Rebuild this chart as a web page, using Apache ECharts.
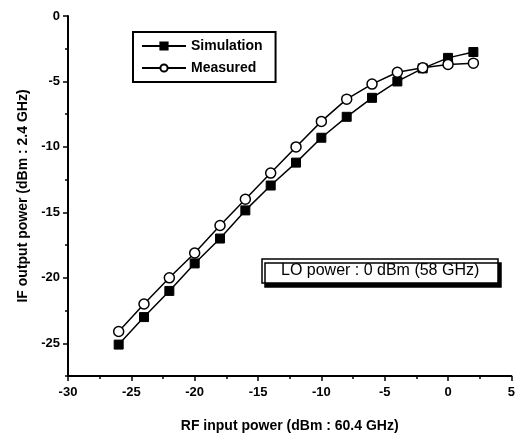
<!DOCTYPE html>
<html>
<head>
<meta charset="utf-8">
<script src="https://cdn.jsdelivr.net/npm/echarts@6/dist/echarts.min.js"></script>
<style>
  html, body { margin: 0; padding: 0; background: #fff; }
  #chart { width: 518px; height: 438px; }
</style>
</head>
<body>
<div id="chart"></div>
<script>
// RF input power (dBm)
var rfInput = [-26, -24, -22, -20, -18, -16, -14, -12, -10, -8, -6, -4, -2, 0, 2];
var simulation = [-25.1, -23.0, -21.0, -18.9, -17.0, -14.85, -12.95, -11.2, -9.3, -7.7, -6.25, -5.0, -4.0, -3.2, -2.75];
var measured = [-24.1, -22.0, -20.0, -18.1, -16.0, -14.0, -12.0, -10.0, -8.05, -6.35, -5.2, -4.3, -3.95, -3.7, -3.6];
var yMajor = [-25, -20, -15, -10, -5, 0];
var yMinor = [-27.5, -22.5, -17.5, -12.5, -7.5, -2.5];

var font = 'Arial, "Liberation Sans", sans-serif';

function pairs(xs, ys) {
  return xs.map(function (x, i) { return [x, ys[i]]; });
}

var chart = echarts.init(document.getElementById('chart'));
chart.setOption({
  animation: false,
  backgroundColor: '#fff',
  grid: { left: 68, right: 6, top: 16, bottom: 61 },
  title: {
    text: 'LO power : 0 dBm (58 GHz)',
    left: 262, top: 259,
    padding: [4, 19, 4, 19],
    backgroundColor: '#fff',
    borderColor: '#000', borderWidth: 1.5,
    shadowColor: '#000', shadowBlur: 0, shadowOffsetX: 3, shadowOffsetY: 4,
    textStyle: { fontFamily: font, fontSize: 16, fontWeight: 'normal', color: '#000' }
  },
  legend: {
    orient: 'vertical',
    left: 133, top: 32,
    padding: [7, 13, 7, 8],
    itemGap: 8,
    itemWidth: 44, itemHeight: 9,
    borderColor: '#000', borderWidth: 2,
    textStyle: { fontFamily: font, fontSize: 14, fontWeight: 'bold', color: '#000' },
    data: ['Simulation', 'Measured']
  },
  xAxis: {
    type: 'value',
    min: -30, max: 5, interval: 5,
    name: 'RF input power (dBm : 60.4 GHz)',
    nameLocation: 'middle', nameGap: 43,
    nameTextStyle: { fontFamily: font, fontSize: 14, fontWeight: 'bold', color: '#000' },
    axisLine: { show: true, onZero: false, lineStyle: { color: '#000', width: 2 } },
    axisTick: { show: true, inside: false, length: 5, lineStyle: { color: '#000', width: 1.5 } },
    minorTick: { show: true, splitNumber: 2, length: 3, lineStyle: { color: '#000', width: 1.5 } },
    axisLabel: { fontFamily: font, fontSize: 13, fontWeight: 'bold', color: '#000', margin: 10 },
    splitLine: { show: false }
  },
  yAxis: [{
    type: 'value',
    min: -27.5, max: 0,
    position: 'left',
    name: 'IF output power (dBm : 2.4 GHz)',
    nameLocation: 'middle', nameGap: 38,
    nameTextStyle: { fontFamily: font, fontSize: 14, fontWeight: 'bold', color: '#000' },
    axisLine: { show: true, onZero: false, lineStyle: { color: '#000', width: 2 } },
    axisTick: { show: true, inside: false, length: 5, customValues: yMajor, lineStyle: { color: '#000', width: 1.5 } },
    axisLabel: { customValues: yMajor, fontFamily: font, fontSize: 13, fontWeight: 'bold', color: '#000', margin: 8 },
    splitLine: { show: false }
  }, {
    type: 'value',
    min: -27.5, max: 0,
    position: 'left',
    axisLine: { show: false, onZero: false },
    axisTick: { show: true, inside: false, length: 3, customValues: yMinor, lineStyle: { color: '#000', width: 1.5 } },
    axisLabel: { show: false },
    splitLine: { show: false }
  }],
  series: [{
    name: 'Simulation',
    type: 'line',
    data: pairs(rfInput, simulation),
    symbol: 'rect', symbolSize: 9,
    lineStyle: { color: '#000', width: 1.5 },
    itemStyle: { color: '#000', borderColor: '#000', borderWidth: 1 }
  }, {
    name: 'Measured',
    type: 'line',
    data: pairs(rfInput, measured),
    symbol: 'circle', symbolSize: 10,
    lineStyle: { color: '#000', width: 1.5 },
    itemStyle: { color: '#fff', borderColor: '#000', borderWidth: 1.5 }
  }]
});
</script>
</body>
</html>
